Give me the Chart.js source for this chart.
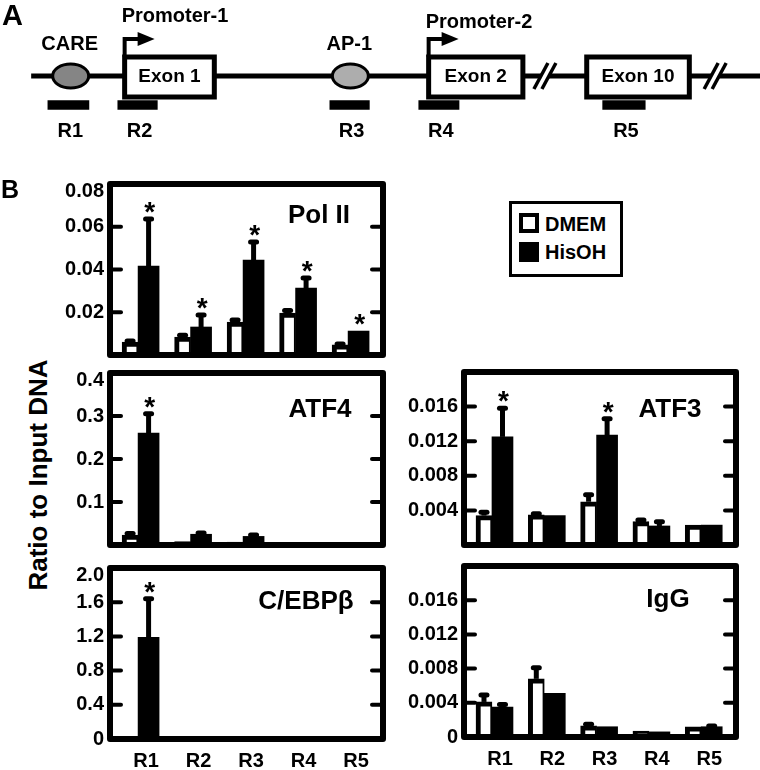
<!DOCTYPE html>
<html>
<head>
<meta charset="utf-8">
<script src="https://cdn.jsdelivr.net/npm/chart.js@4.4.1/dist/chart.umd.min.js"></script>
<style>
  body { margin:0; background:#fff; width:760px; height:770px; position:relative; overflow:hidden;
         font-family:"Liberation Sans", Arial, sans-serif; font-weight:bold; color:#000; }
  canvas { position:absolute; }
  .lbl { position:absolute; line-height:1; white-space:nowrap; }
  #ytitle { position:absolute; left:-112px; top:460px; width:300px; height:30px; line-height:30px;
            text-align:center; font-size:26px; transform:rotate(-90deg); }
  #legend { position:absolute; left:509px; top:201px; width:114px; height:76px; border:3px solid #000; box-sizing:border-box; }
  #legend .mk { position:absolute; left:7px; width:20px; height:20px; box-sizing:border-box; }
  #legend .tx { position:absolute; left:33px; font-size:20px; line-height:20px; }
</style>
</head>
<body>
<canvas id="mapA" width="760" height="150" style="left:0;top:0;width:760px;height:150px"></canvas>
<div class="lbl" style="left:2px;top:1px;font-size:29px">A</div>
<div class="lbl" style="left:1px;top:177px;font-size:25px">B</div>
<div id="ytitle">Ratio to Input DNA</div>
<div id="legend"></div>

<script>
var FONT = '"Liberation Sans", Arial, sans-serif';

// ---- panel A: gene map (positions on a 0-100 relative map scale) ----
var ampNames = ['R1','R2','R3','R4','R5'];
var ampStart = [6.3, 15.5, 43.4, 55.1, 79.3];
var ampEnd   = [11.7, 20.7, 48.6, 60.4, 84.9];
var exonNames = ['Exon 1','Exon 2','Exon 10'];
var exonStart = [16.4, 56.4, 77.2];
var exonEnd   = [28.2, 68.8, 90.7];
var siteNames = ['CARE','AP-1'];
var sitePos   = [9.3, 46.1];
var siteColor = ['#858585','#adadad'];
var promNames = ['Promoter-1','Promoter-2'];
var promPos   = [16.4, 56.4];
var breakPos  = [71.7, 94.1];
var mapStart = 4.1, mapEnd = 100;

// ---- panel B: ChIP values ----
var regions = ['R1','R2','R3','R4','R5'];
var seriesNames = ['DMEM','HisOH'];

var polDmem    = [0.0061, 0.0084, 0.0154, 0.0196, 0.0047];
var polDmemErr = [0.0005, 0.0008, 0.0010, 0.0012, 0.0004];
var polHis     = [0.0416, 0.0131, 0.0444, 0.0313, 0.0112];
var polHisErr  = [0.0220, 0.0056, 0.0085, 0.0047, 0];
var polSig     = [true, true, true, true, true];
var polTicks   = [0.02, 0.04, 0.06, 0.08];
var polTickLabels = ['0.02','0.04','0.06','0.08'];

var atf4Dmem    = [0.023, 0.008, 0.007, 0.003, 0.003];
var atf4DmemErr = [0.004, 0, 0, 0, 0];
var atf4His     = [0.260, 0.025, 0.020, 0.003, 0.003];
var atf4HisErr  = [0.045, 0.003, 0.003, 0, 0];
var atf4Sig     = [true, false, false, false, false];
var atf4Ticks   = [0.1, 0.2, 0.3, 0.4];
var atf4TickLabels = ['0.1','0.2','0.3','0.4'];

var cebpDmem    = [0.02, 0.015, 0.015, 0.005, 0.005];
var cebpDmemErr = [0, 0, 0, 0, 0];
var cebpHis     = [1.19, 0.025, 0.025, 0.005, 0.005];
var cebpHisErr  = [0.45, 0, 0, 0, 0];
var cebpSig     = [true, false, false, false, false];
var cebpTicks   = [0, 0.4, 0.8, 1.2, 1.6, 2.0];
var cebpTickLabels = ['0','0.4','0.8','1.2','1.6','2.0'];

var atf3Dmem    = [0.0034, 0.0035, 0.0050, 0.0027, 0.0023];
var atf3DmemErr = [0.0004, 0.0001, 0.0008, 0.0002, 0];
var atf3His     = [0.0125, 0.0034, 0.0127, 0.0022, 0.0023];
var atf3HisErr  = [0.0033, 0, 0.0019, 0.0005, 0];
var atf3Sig     = [true, false, true, false, false];
var atf3Ticks   = [0.004, 0.008, 0.012, 0.016];
var atf3TickLabels = ['0.004','0.008','0.012','0.016'];

var iggDmem    = [0.0041, 0.0068, 0.0013, 0.0007, 0.0012];
var iggDmemErr = [0.0008, 0.0013, 0.0002, 0, 0];
var iggHis     = [0.0035, 0.0051, 0.0012, 0.0006, 0.0012];
var iggHisErr  = [0.0003, 0, 0, 0, 0.0001];
var iggSig     = [false, false, false, false, false];
var iggTicks   = [0, 0.004, 0.008, 0.012, 0.016];
var iggTickLabels = ['0','0.004','0.008','0.012','0.016'];

// ---------- gene map ----------
var genemap = {
  id: 'genemap',
  beforeDatasetsDraw: function(chart) {
    var c = chart.ctx, xs = chart.scales.x, ys = chart.scales.y;
    function px(v){ return xs.getPixelForValue(v); }
    function py(v){ return ys.getPixelForValue(v); }
    var ty = py(7.6);
    c.save();
    c.strokeStyle = '#000'; c.fillStyle = '#000';
    c.lineWidth = 5;
    c.beginPath(); c.moveTo(px(mapStart), ty); c.lineTo(px(mapEnd), ty); c.stroke();

    breakPos.forEach(function(b){
      var bx = px(b);
      c.fillStyle = '#fff'; c.fillRect(bx - 4, ty - 4, 8, 8);
      c.lineWidth = 3.5; c.strokeStyle = '#000';
      [-4, 4].forEach(function(o){
        c.beginPath(); c.moveTo(bx + o - 7, ty + 13); c.lineTo(bx + o + 7, ty - 13); c.stroke();
      });
    });

    exonStart.forEach(function(s, i){
      var x0 = px(s), x1 = px(exonEnd[i]), y0 = py(5.7), y1 = py(9.7);
      c.fillStyle = '#fff'; c.fillRect(x0, y0, x1 - x0, y1 - y0);
      c.lineWidth = 5; c.strokeStyle = '#000'; c.lineJoin = 'miter';
      c.strokeRect(x0, y0, x1 - x0, y1 - y0);
      c.fillStyle = '#000'; c.font = 'bold 19px ' + FONT;
      c.textAlign = 'center'; c.textBaseline = 'middle';
      c.fillText(exonNames[i], (x0 + x1) / 2, ty + 1);
    });

    sitePos.forEach(function(s, i){
      c.beginPath(); c.ellipse(px(s), ty, 18, 12, 0, 0, Math.PI * 2);
      c.fillStyle = siteColor[i]; c.fill();
      c.lineWidth = 3; c.strokeStyle = '#000'; c.stroke();
      c.fillStyle = '#000'; c.font = 'bold 20px ' + FONT;
      c.textAlign = 'center'; c.textBaseline = 'alphabetic';
      c.fillText(siteNames[i], px(s) - 1, py(5.0));
    });

    promPos.forEach(function(p, i){
      var x0 = px(p), yt = py(3.9);
      c.lineWidth = 4; c.strokeStyle = '#000'; c.lineCap = 'butt';
      c.beginPath(); c.moveTo(x0, py(5.7)); c.lineTo(x0, yt); c.lineTo(x0 + 14, yt); c.stroke();
      c.beginPath(); c.moveTo(x0 + 13, yt - 7); c.lineTo(x0 + 30, yt); c.lineTo(x0 + 13, yt + 7); c.closePath();
      c.fillStyle = '#000'; c.fill();
      c.font = 'bold 20px ' + FONT; c.textAlign = 'left'; c.textBaseline = 'alphabetic';
      c.fillText(promNames[i], x0 - 3, py(i === 0 ? 2.2 : 2.8));
    });

    c.font = 'bold 20px ' + FONT; c.textAlign = 'center'; c.textBaseline = 'middle';
    ampNames.forEach(function(n, i){
      c.fillText(n, px((ampStart[i] + ampEnd[i]) / 2) + 2, py(13.1));
    });
    c.restore();
  }
};

new Chart('mapA', {
  type: 'bar',
  data: {
    datasets: [{
      data: ampStart.map(function(s, i){ return { x: [s, ampEnd[i]], y: 10.5 }; }),
      backgroundColor: '#000',
      barThickness: 9
    }]
  },
  options: {
    indexAxis: 'y',
    responsive: false,
    animation: false,
    layout: { padding: 0 },
    plugins: { legend: { display: false }, tooltip: { enabled: false } },
    scales: {
      x: { type: 'linear', min: 0, max: 100, display: false },
      y: { type: 'linear', min: 0, max: 15, reverse: true, offset: false, display: false }
    }
  },
  plugins: [genemap]
});

// ---------- bar panels ----------
var barExtras = {
  id: 'barExtras',
  afterDatasetsDraw: function(chart) {
    var c = chart.ctx, ys = chart.scales.y, a = chart.chartArea;
    var o = chart.options.plugins.barExtras;
    c.save();
    // frame
    c.lineWidth = 6; c.strokeStyle = '#000'; c.lineJoin = 'round';
    c.strokeRect(a.left, a.top, a.right - a.left, a.bottom - a.top);
    // inward tick marks on both sides
    c.lineWidth = 4; c.lineCap = 'round';
    o.ticks.forEach(function(v){
      if (v <= ys.min || v >= ys.max) return;
      var y = ys.getPixelForValue(v);
      c.beginPath(); c.moveTo(a.left, y); c.lineTo(a.left + 11, y); c.stroke();
      c.beginPath(); c.moveTo(a.right - 11, y); c.lineTo(a.right, y); c.stroke();
    });
    // error bars and asterisks
    chart.data.datasets.forEach(function(ds, di){
      var meta = chart.getDatasetMeta(di);
      meta.data.forEach(function(bar, i){
        var err = ds.errors[i] || 0;
        var top = ys.getPixelForValue(ds.data[i].y + err);
        if (err > 0) {
          c.strokeStyle = '#000';
          c.lineWidth = 5; c.lineCap = 'butt';
          c.beginPath(); c.moveTo(bar.x, bar.y); c.lineTo(bar.x, top); c.stroke();
          c.lineWidth = 5; c.lineCap = 'round';
          c.beginPath(); c.moveTo(bar.x - 3, top); c.lineTo(bar.x + 3, top); c.stroke();
        }
        if (ds.sig && ds.sig[i]) {
          c.fillStyle = '#000'; c.font = 'bold 28px ' + FONT;
          c.textAlign = 'center'; c.textBaseline = 'alphabetic';
          c.fillText('*', bar.x + 1, top + 2);
        }
      });
    });
    // panel title
    c.fillStyle = '#000'; c.font = 'bold 26px ' + FONT;
    c.textAlign = 'center'; c.textBaseline = 'middle';
    c.fillText(o.title, a.right - o.dx, a.top + o.dy);
    c.restore();
  }
};

function panel(box, showX, ymax, ticks, tickLabels, dmem, dmemErr, his, hisErr, sig, title, dx, dy) {
  var padT = 14, padR = 12, axW = 60, axH = 36;
  var w = box.r - box.l + axW + padR;
  var h = box.b - box.t + padT + (showX ? axH : 14);
  var cv = document.createElement('canvas');
  cv.width = w; cv.height = h;
  cv.style.left = (box.l - axW) + 'px'; cv.style.top = (box.t - padT) + 'px';
  cv.style.width = w + 'px'; cv.style.height = h + 'px';
  document.body.appendChild(cv);

  var tickFont = { family: FONT, size: 20, weight: 'bold' };
  new Chart(cv, {
    type: 'bar',
    data: {
      datasets: [{
        label: seriesNames[0],
        data: dmem.map(function(v, i){ return { x: i + 1, y: v }; }),
        errors: dmemErr,
        backgroundColor: '#fff',
        borderColor: '#000',
        borderWidth: { top: 5, left: 5, right: 2, bottom: 0 },
        borderSkipped: false,
        barThickness: 16
      }, {
        label: seriesNames[1],
        data: his.map(function(v, i){ return { x: i + 1, y: v }; }),
        errors: hisErr,
        sig: sig,
        backgroundColor: '#000',
        borderWidth: 0,
        barThickness: 21
      }]
    },
    options: {
      responsive: false,
      animation: false,
      layout: { padding: { left: 0, right: padR, top: padT, bottom: showX ? 0 : 14 } },
      plugins: {
        legend: { display: false },
        tooltip: { enabled: false },
        barExtras: { ticks: ticks, title: title, dx: dx, dy: dy }
      },
      scales: {
        x: {
          type: 'linear', min: 0.465, max: 5.665, offset: false, display: showX,
          afterBuildTicks: function(s){ s.ticks = regions.map(function(r, i){ return { value: i + 1 }; }); },
          afterFit: function(s){ s.height = showX ? axH : 0; s.paddingLeft = 0; s.paddingRight = 0; },
          grid: { display: false, drawTicks: false },
          border: { display: false },
          ticks: { color: '#000', font: tickFont, padding: 10, labelOffset: 8, maxRotation: 0, autoSkip: false,
                   callback: function(v, i){ return regions[i]; } }
        },
        y: {
          min: 0, max: ymax,
          afterBuildTicks: function(s){ s.ticks = ticks.map(function(v){ return { value: v }; }); },
          afterFit: function(s){ s.width = axW; s.paddingTop = 0; s.paddingBottom = 0; },
          grid: { display: false, drawTicks: false },
          border: { display: false },
          ticks: {
            color: '#000', padding: 6,
            // the label at the very top of a frame sits a little lower, as in the figure
            font: function(ctx){
              var top = ctx.tick && ctx.tick.value >= ymax;
              return { family: FONT, size: 20, weight: 'bold', lineHeight: top ? 0.75 : 1.2 };
            },
            callback: function(v, i){ return v >= ymax ? ['', tickLabels[i]] : tickLabels[i]; }
          }
        }
      }
    },
    plugins: [barExtras]
  });
}

panel({l:110, r:383, t:184, b:355}, false, 0.08, polTicks, polTickLabels,
      polDmem, polDmemErr, polHis, polHisErr, polSig, 'Pol II', 64, 32);
panel({l:110, r:383, t:373, b:545}, false, 0.4, atf4Ticks, atf4TickLabels,
      atf4Dmem, atf4DmemErr, atf4His, atf4HisErr, atf4Sig, 'ATF4', 63, 37);
panel({l:110, r:383, t:568, b:739}, true, 2.0, cebpTicks, cebpTickLabels,
      cebpDmem, cebpDmemErr, cebpHis, cebpHisErr, cebpSig, 'C/EBPβ', 77, 34);
panel({l:464, r:736, t:372, b:545}, false, 0.02, atf3Ticks, atf3TickLabels,
      atf3Dmem, atf3DmemErr, atf3His, atf3HisErr, atf3Sig, 'ATF3', 66, 38);
panel({l:464, r:736, t:566, b:737}, true, 0.02, iggTicks, iggTickLabels,
      iggDmem, iggDmemErr, iggHis, iggHisErr, iggSig, 'IgG', 68, 34);

// legend
var legend = document.getElementById('legend');
seriesNames.forEach(function(n, i){
  var mk = document.createElement('div');
  mk.className = 'mk';
  mk.style.top = (9 + i * 29) + 'px';
  mk.style.background = i === 0 ? '#fff' : '#000';
  mk.style.border = i === 0 ? '4px solid #000' : 'none';
  legend.appendChild(mk);
  var tx = document.createElement('div');
  tx.className = 'tx';
  tx.style.top = (10 + i * 28) + 'px';
  tx.textContent = n;
  legend.appendChild(tx);
});
</script>
</body>
</html>
